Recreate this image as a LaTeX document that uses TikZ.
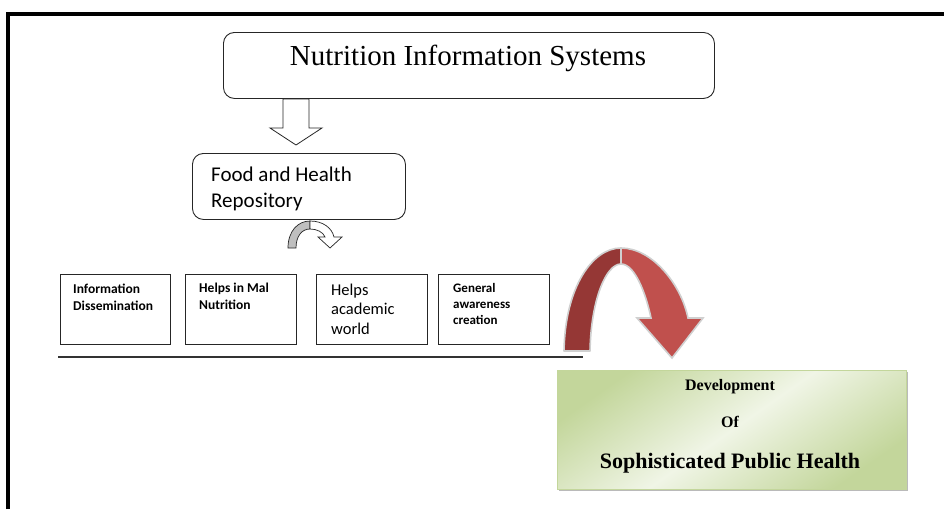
\documentclass[tikz,border=0pt]{standalone}
\usepackage{fontspec}
\setmainfont{Liberation Serif}
\newfontfamily\calibri{Carlito}
\usetikzlibrary{shadows}
\definecolor{darkred}{HTML}{953735}
\definecolor{lightred}{HTML}{C0504D}
\definecolor{glow}{HTML}{D0D0D0}
\definecolor{gdark}{HTML}{C3D69B}
\definecolor{glight}{HTML}{F0F5E6}
\definecolor{smallgray}{HTML}{BFBFBF}
\begin{document}
\begin{tikzpicture}[x=1pt,y=-1pt,
  roundbox/.style={draw=black!85, line width=0.9pt, rounded corners=11pt, fill=white, anchor=north west, inner sep=0pt},
  plainbox/.style={draw=black!85, line width=0.9pt, anchor=north west, inner sep=0pt},
  greenbox/.style={draw=gdark, line width=0.6pt, anchor=north west, inner sep=0pt,
     left color=gdark, right color=gdark, middle color=glight, shading angle=35,
     drop shadow={shadow xshift=1.5pt, shadow yshift=-2pt, fill=black!45, opacity=0.6}},
  lbl/.style={anchor=base west, inner sep=0pt, align=left},
  ctr/.style={anchor=base, inner sep=0pt},
  smallfont/.style={font=\calibri\bfseries\fontsize{13.5}{17}\selectfont},
  blockarrow/.style={fill=white, draw=black!85, line width=0.8pt, line join=miter},
  redglow/.style={draw=glow, line width=1.6pt, line join=round}
]
\useasboundingbox (0,0) rectangle (944,509);
\fill[white] (0,0) rectangle (944,509);
% frame
\draw[line width=3.5pt, line join=miter] (8,509) -- (8,14) -- (944,14);

% top box
\node[roundbox, minimum width=491pt, minimum height=66pt] (nis) at (223,32) {};
\node[ctr, font=\fontsize{29}{34}\selectfont] (nist) at (468,65) {Nutrition Information Systems};

% down block arrow
\draw[blockarrow] (283,99) -- (309,99) -- (309,128) -- (322,128) -- (296,145) -- (270,128) -- (283,128) -- cycle;

% food box
\node[roundbox, minimum width=213pt, minimum height=66pt] (fhr) at (192,153) {};
\node[lbl, font=\calibri\fontsize{21}{26}\selectfont] (fhrt) at (211,207) {Food and Health\\Repository};

% small curved arrow
\draw[fill=smallgray, draw=black!85, line width=0.7pt]
  (288,248) .. controls (288,231) and (298,221) .. (310,221)
  -- (310,229) .. controls (302,229) and (296,236) .. (296,248) -- cycle;
\draw[fill=white, draw=black!85, line width=0.7pt, line join=miter]
  (310,221) .. controls (323,221) and (332,228) .. (334,237)
  -- (342,237) -- (330,248) -- (318,237) -- (325,237)
  .. controls (323,232) and (317,229) .. (310,229) -- cycle;

% four boxes
\node[plainbox, minimum width=110pt, minimum height=70pt] (b1) at (60,274) {};
\node[plainbox, minimum width=111pt, minimum height=70pt] (b2) at (185,274) {};
\node[plainbox, minimum width=111pt, minimum height=70pt] (b3) at (316,274) {};
\node[plainbox, minimum width=111pt, minimum height=70pt] (b4) at (438,274) {};
\node[lbl, smallfont] (b1t) at (73,310) {Information\\Dissemination};
\node[lbl, smallfont] (b2t) at (199,309) {Helps in Mal\\Nutrition};
\node[lbl, font=\calibri\fontsize{16.5}{19.5}\selectfont] (b3t) at (331,334) {Helps\\academic\\world};
\node[lbl, font=\calibri\bfseries\fontsize{13}{16}\selectfont] (b4t) at (453,324) {General\\awareness\\creation};

% base line
\draw[line width=1.2pt, black!80] (58,357) -- (583,357);

% big red curved arrow
\draw[redglow, fill=darkred]
  (564,351) .. controls (565,288) and (592,248) .. (621,248)
  -- (621,264) .. controls (606,264) and (591,300) .. (590,351) -- cycle;
\draw[redglow, fill=lightred, line join=miter]
  (621,248) .. controls (652,248) and (681,284) .. (688,318)
  -- (703,318) -- (672,358) -- (637,318) -- (651,318)
  .. controls (646,294) and (635,264) .. (621,264) -- cycle;

% green box
\node[greenbox, minimum width=349pt, minimum height=119pt] (dev) at (557,370) {};
\node[ctr, font=\bfseries\fontsize{16}{19}\selectfont] (devt) at (730,390) {Development};
\node[ctr, font=\bfseries\fontsize{16}{19}\selectfont] (oft) at (730,427) {Of};
\node[ctr, font=\bfseries\fontsize{22}{26}\selectfont] (spht) at (730,468) {Sophisticated Public Health};
\end{tikzpicture}
\end{document}
